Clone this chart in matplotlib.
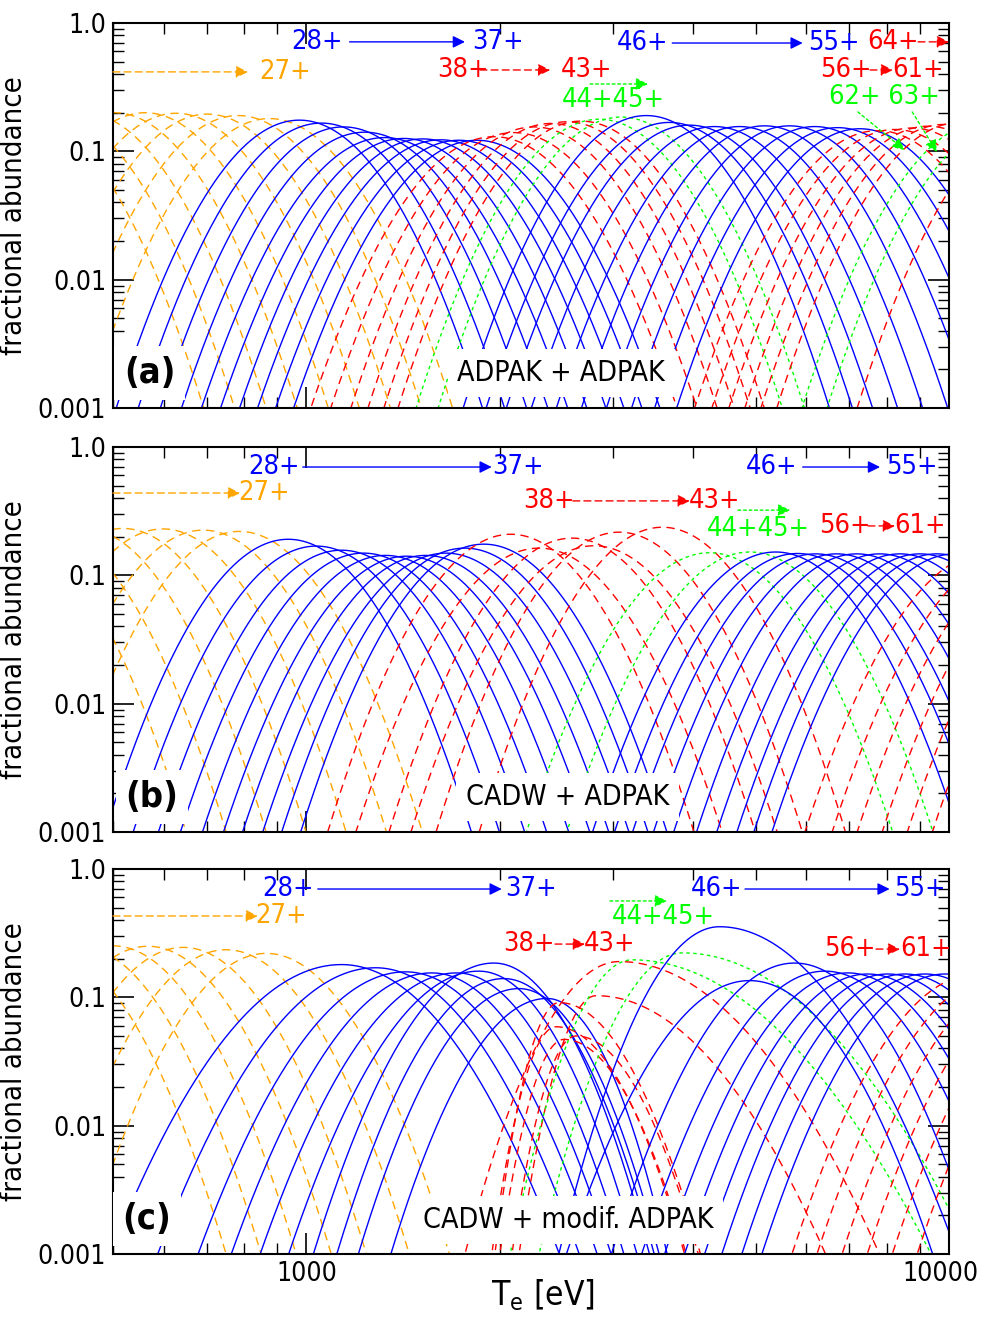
import numpy as np
import matplotlib
matplotlib.use('Agg')
import matplotlib.pyplot as plt
import matplotlib.transforms as mtransforms
from matplotlib.ticker import FixedLocator, FixedFormatter, NullFormatter

plt.rcParams['font.family'] = ['DejaVu Sans']
plt.rcParams['font.stretch'] = 'condensed'
plt.rcParams['mathtext.fontset'] = 'custom'
plt.rcParams['mathtext.rm'] = 'DejaVu Sans:stretch=condensed'

# charge states drawn in each panel
a_ions = list(range(19, 65))
b_ions = list(range(21, 62))
c_ions = list(range(21, 62))

# peak temperature [eV] of each charge state
a_tpeak = [359, 401, 449, 502, 561, 627, 701, 783, 876,
           975, 1055, 1142, 1232, 1323, 1417, 1517, 1618, 1726, 1841,
           1958, 2103, 2260, 2403, 2544, 2676,
           2855, 3090,
           3380, 3670, 3945, 4315, 4720, 5164, 5648, 6180, 6712, 7264,
           7745, 8240, 8756, 9273, 9822, 10400,
           11380, 12450, 13870]
b_tpeak = [337, 389, 449, 518, 598, 691, 786,
           937, 1036, 1134, 1227, 1328, 1432, 1533, 1648, 1764, 1888,
           2080, 2301, 2591, 2803, 3067, 3580,
           4240, 4900,
           5373, 5813, 6202, 6685, 7186, 7800, 8386, 9013, 9577, 10220,
           11500, 12680, 13870, 15170, 16600, 18160]
c_tpeak = [389, 441, 500, 567, 643, 750, 866,
           1134, 1281, 1427, 1567, 1714, 1855, 1958, 2029, 2142, 2368,
           2446, 2473, 2517, 2629, 2824, 3067,
           3214, 3846,
           4393, 4893, 5750, 6408, 6957, 7474, 8030, 8540, 9175, 9858,
           10980, 12010, 13140, 14380, 15730, 17200]

# peak fractional abundance
a_fpeak = [0.2, 0.2, 0.2, 0.2, 0.2, 0.198, 0.195, 0.19, 0.18,
           0.175, 0.166, 0.155, 0.141, 0.128, 0.126, 0.125, 0.123, 0.122, 0.122,
           0.13, 0.14, 0.155, 0.165, 0.17, 0.172,
           0.178, 0.185,
           0.19, 0.168, 0.16, 0.156, 0.156, 0.158, 0.158, 0.156, 0.153, 0.15,
           0.145, 0.148, 0.152, 0.157, 0.162, 0.168,
           0.17, 0.172, 0.18]
b_fpeak = [0.23, 0.23, 0.233, 0.232, 0.23, 0.225, 0.22,
           0.191, 0.169, 0.157, 0.149, 0.143, 0.141, 0.143, 0.149, 0.163, 0.175,
           0.209, 0.163, 0.195, 0.17, 0.217, 0.237,
           0.15, 0.152,
           0.152, 0.148, 0.147, 0.147, 0.147, 0.147, 0.147, 0.147, 0.147, 0.147,
           0.15, 0.15, 0.15, 0.15, 0.15, 0.15]
c_fpeak = [0.25, 0.252, 0.252, 0.25, 0.245, 0.235, 0.22,
           0.18, 0.17, 0.158, 0.155, 0.155, 0.16, 0.185, 0.14, 0.117, 0.098,
           0.059, 0.091, 0.047, 0.05, 0.103, 0.19,
           0.196, 0.222,
           0.355, 0.135, 0.185, 0.16, 0.155, 0.152, 0.152, 0.152, 0.152, 0.152,
           0.15, 0.15, 0.15, 0.15, 0.15, 0.15]

# half widths (decades of Te from the peak down to 0.001)
ab_width = 0.285
c_wleft = [0.285, 0.285, 0.285, 0.285, 0.285, 0.285, 0.285,
           0.36, 0.339, 0.323, 0.312, 0.306, 0.296, 0.281, 0.26, 0.25, 0.243,
           0.1, 0.1, 0.1, 0.1, 0.12, 0.24,
           0.19, 0.223,
           0.25, 0.285, 0.285, 0.285, 0.285, 0.285, 0.285, 0.285, 0.285, 0.285,
           0.285, 0.285, 0.285, 0.285, 0.285, 0.285]
c_wright = [0.285, 0.285, 0.285, 0.285, 0.285, 0.285, 0.285,
            0.339, 0.317, 0.298, 0.279, 0.26, 0.246, 0.242, 0.234, 0.218, 0.187,
            0.2, 0.22, 0.19, 0.19, 0.357, 0.405,
            0.465, 0.45,
            0.37, 0.285, 0.285, 0.285, 0.285, 0.285, 0.285, 0.285, 0.285, 0.285,
            0.285, 0.285, 0.285, 0.285, 0.285, 0.285]

y_ticks = [0.001, 0.01, 0.1, 1.0]
y_ticklabels = ['0.001', '0.01', '0.1', '1.0']
x_ticks = [1000, 10000]
x_ticklabels = ['1000', '10000']

ORANGE = '#ffa500'
BLUE = '#0000ff'
RED = '#ff0000'
GREEN = '#00ff00'

te = np.logspace(np.log10(300), np.log10(25000), 2000)


def abundance(tp, fp, wl, wr):
    d = np.log10(te / tp)
    w = np.where(d < 0, wl, wr)
    lf = np.log10(fp) - (np.log10(fp) + 3) * (d / w) ** 2
    return 10 ** lf


def style(q):
    if q <= 27:
        return ORANGE, (0, (6, 4))
    if q <= 37 or 46 <= q <= 55:
        return BLUE, '-'
    if q in (44, 45, 62, 63):
        return GREEN, (0, (2.5, 2.5))
    return RED, (0, (6, 4))


fig = plt.figure(figsize=(9.81, 13.18), dpi=100)
L, W = 113 / 981, 836 / 981
tops = [23, 447, 869]
H = 385 / 1318
axes = [fig.add_axes([L, 1 - (t + 385) / 1318, W, H]) for t in tops]

panels = [
    (a_ions, a_tpeak, a_fpeak, [ab_width] * len(a_ions), [ab_width] * len(a_ions)),
    (b_ions, b_tpeak, b_fpeak, [ab_width] * len(b_ions), [ab_width] * len(b_ions)),
    (c_ions, c_tpeak, c_fpeak, c_wleft, c_wright),
]

for ax, (ions, tp, fp, wl, wr) in zip(axes, panels):
    for q, t0, f0, w1, w2 in zip(ions, tp, fp, wl, wr):
        col, ls = style(q)
        ax.plot(te, abundance(t0, f0, w1, w2), color=col, ls=ls, lw=1.0)
    ax.set_xscale('log')
    ax.set_yscale('log')
    ax.set_xlim(500, 10000)
    ax.set_ylim(0.001, 1.0)
    ax.yaxis.set_major_locator(FixedLocator(y_ticks))
    ax.yaxis.set_major_formatter(FixedFormatter(y_ticklabels))
    ax.xaxis.set_major_locator(FixedLocator(x_ticks))
    ax.xaxis.set_major_formatter(FixedFormatter(x_ticklabels))
    ax.tick_params(which='both', direction='in', top=True, right=True, labelsize=19)
    ax.tick_params(which='major', length=15, width=1.2, pad=5)
    ax.tick_params(which='minor', length=8, width=1.0)
    ax.yaxis.set_minor_formatter(NullFormatter())
    ax.xaxis.set_minor_formatter(NullFormatter())
    for s in ax.spines.values():
        s.set_linewidth(1.5)
    ax.set_ylabel('fractional abundance', fontsize=21)
    ax.yaxis.set_label_coords(-0.102, 0.5)

for ax in axes[:2]:
    ax.set_xticklabels([])
axes[2].set_xlabel('T$_\\mathregular{e}$ [eV]', fontsize=24)
axes[2].xaxis.set_label_coords(0.514, -0.06)

# keep the last tick label inside the figure
last = axes[2].xaxis.get_major_ticks()[1].label1
last.set_transform(last.get_transform()
                   + mtransforms.ScaledTranslation(-0.09, 0, fig.dpi_scale_trans))


def label(ax, x, y, s, col, size=19.5):
    ax.text(x, y, s, color=col, fontsize=size, ha='center', va='center',
            transform=ax.transAxes)


def arrow(ax, x0, y0, x1, y1, col, ls):
    ax.annotate('', xy=(x1, y1), xytext=(x0, y0), xycoords='axes fraction',
                textcoords='axes fraction',
                arrowprops=dict(arrowstyle='-|>', color=col, lw=1.0, ls=ls,
                                mutation_scale=18, shrinkA=0, shrinkB=0))


def boxed(ax, x, y, s, size, weight='normal'):
    ax.text(x, y, s, fontsize=size, fontweight=weight, ha='center', va='center',
            transform=ax.transAxes, zorder=10,
            bbox=dict(fc='white', ec='none', pad=7))


DASH = (0, (5, 3))
DOT = (0, (2, 2))

# panel (a)
ax = axes[0]
label(ax, 0.244, 0.951, '28+', BLUE)
arrow(ax, 0.283, 0.951, 0.421, 0.951, BLUE, '-')
label(ax, 0.4605, 0.951, '37+', BLUE)
arrow(ax, 0.0, 0.873, 0.1615, 0.873, ORANGE, DASH)
label(ax, 0.206, 0.873, '27+', ORANGE)
label(ax, 0.4187, 0.878, '38+', RED)
arrow(ax, 0.439, 0.878, 0.523, 0.878, RED, DASH)
label(ax, 0.567, 0.878, '43+', RED)
label(ax, 0.634, 0.948, '46+', BLUE)
arrow(ax, 0.669, 0.948, 0.825, 0.948, BLUE, '-')
label(ax, 0.8624, 0.948, '55+', BLUE)
label(ax, 0.933, 0.951, '64+', RED)
arrow(ax, 0.963, 0.951, 1.0, 0.951, RED, DASH)
label(ax, 0.877, 0.878, '56+', RED)
arrow(ax, 0.9055, 0.878, 0.933, 0.878, RED, DASH)
label(ax, 0.963, 0.878, '61+', RED)
arrow(ax, 0.5706, 0.8416, 0.64, 0.8416, GREEN, DOT)
label(ax, 0.599, 0.80, '44+45+', GREEN)
label(ax, 0.923, 0.808, '62+ 63+', GREEN)
arrow(ax, 0.891, 0.769, 0.947, 0.670, GREEN, DOT)
arrow(ax, 0.956, 0.769, 0.9856, 0.665, GREEN, DOT)
boxed(ax, 0.044, 0.091, '(a)', 26, 'bold')
boxed(ax, 0.536, 0.091, 'ADPAK + ADPAK', 20.5)

# panel (b)
ax = axes[1]
label(ax, 0.1926, 0.948, '28+', BLUE)
arrow(ax, 0.227, 0.948, 0.453, 0.948, BLUE, '-')
label(ax, 0.4844, 0.948, '37+', BLUE)
arrow(ax, 0.0, 0.8805, 0.152, 0.8805, ORANGE, DASH)
label(ax, 0.1806, 0.8805, '27+', ORANGE)
label(ax, 0.5215, 0.86, '38+', RED)
arrow(ax, 0.55, 0.86, 0.69, 0.86, RED, DASH)
label(ax, 0.72, 0.86, '43+', RED)
arrow(ax, 0.7476, 0.836, 0.81, 0.836, GREEN, DOT)
label(ax, 0.7715, 0.787, '44+45+', GREEN)
label(ax, 0.788, 0.948, '46+', BLUE)
arrow(ax, 0.825, 0.948, 0.9175, 0.948, BLUE, '-')
label(ax, 0.9557, 0.948, '55+', BLUE)
label(ax, 0.8756, 0.795, '56+', RED)
arrow(ax, 0.903, 0.795, 0.9354, 0.795, RED, DASH)
label(ax, 0.9653, 0.795, '61+', RED)
boxed(ax, 0.0467, 0.091, '(b)', 26, 'bold')
boxed(ax, 0.544, 0.091, 'CADW + ADPAK', 20.5)

# panel (c)
ax = axes[2]
label(ax, 0.2093, 0.948, '28+', BLUE)
arrow(ax, 0.245, 0.948, 0.465, 0.948, BLUE, '-')
label(ax, 0.50, 0.948, '37+', BLUE)
arrow(ax, 0.0, 0.878, 0.1734, 0.878, ORANGE, DASH)
label(ax, 0.201, 0.878, '27+', ORANGE)
label(ax, 0.4976, 0.805, '38+', RED)
arrow(ax, 0.5287, 0.805, 0.5646, 0.805, RED, DASH)
label(ax, 0.5945, 0.805, '43+', RED)
arrow(ax, 0.5945, 0.917, 0.6627, 0.917, GREEN, DOT)
label(ax, 0.658, 0.875, '44+45+', GREEN)
label(ax, 0.7225, 0.948, '46+', BLUE)
arrow(ax, 0.756, 0.948, 0.929, 0.948, BLUE, '-')
label(ax, 0.9653, 0.948, '55+', BLUE)
label(ax, 0.8816, 0.792, '56+', RED)
arrow(ax, 0.9127, 0.792, 0.9414, 0.792, RED, DASH)
label(ax, 0.9725, 0.792, '61+', RED)
boxed(ax, 0.0407, 0.091, '(c)', 26, 'bold')
boxed(ax, 0.544, 0.0883, 'CADW + modif. ADPAK', 20.5)

fig.savefig('out.png', dpi=100)
